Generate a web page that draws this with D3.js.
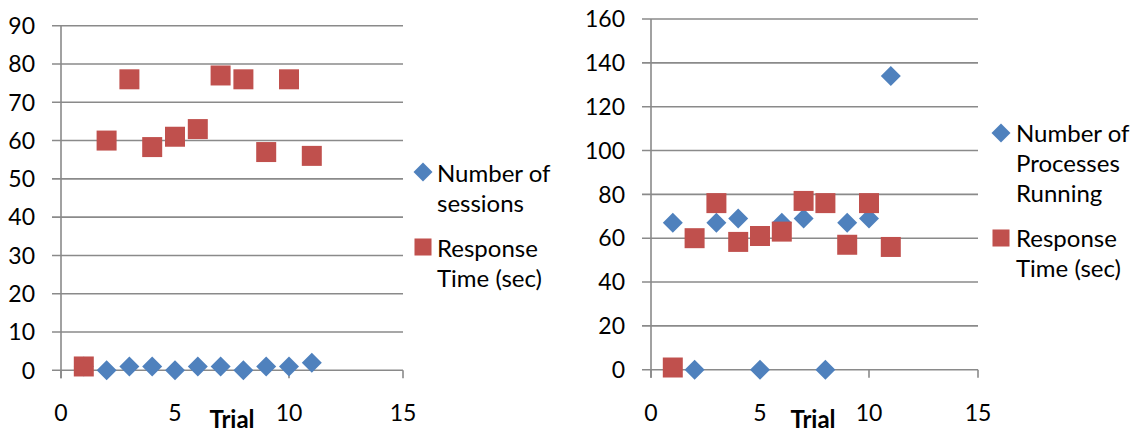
<!DOCTYPE html>
<html><head><meta charset="utf-8">
<script src="https://cdn.jsdelivr.net/npm/d3@7"></script>
<style>body{margin:0;background:#fff;}svg{display:block;font-family:Lato,"Open Sans",sans-serif;}</style>
</head><body>
<svg id="c" width="1139" height="434"></svg>
<script>
const trials = [1,2,3,4,5,6,7,8,9,10,11];
const sessions = [1,0,1,1,0,1,1,0,1,1,2];
const processes = [67,0,67,69,0,67,69,0,67,69,134];
const responseTime = [1,60,76,58.3,61,63,77,76,57,76,56];
const xTicks = [0,5,10,15];
const leftYTicks = [0,10,20,30,40,50,60,70,80,90];
const rightYTicks = [0,20,40,60,80,100,120,140,160];
const leftLegend = [["Number of","sessions"],["Response","Time (sec)"]];
const rightLegend = [["Number of","Processes","Running"],["Response","Time (sec)"]];

const BLUE = "#4F81BD", RED = "#C0504D", GRID = "#8a8a8a";
const svg = d3.select("#c");
const diamond = d3.symbol().type(d3.symbolSquare);

function chart(cfg){
  const g = svg.append("g");
  const x = d3.scaleLinear().domain([0,15]).range([cfg.left, cfg.right]);
  const y = d3.scaleLinear().domain([0, cfg.yMax]).range([cfg.bottom, cfg.top]);
  g.selectAll("line.grid").data(cfg.yTicks).join("line")
    .attr("x1", cfg.left-9).attr("x2", cfg.right)
    .attr("y1", d=>y(d)).attr("y2", d=>y(d))
    .attr("stroke", GRID).attr("stroke-width", 1.6);
  g.append("line").attr("x1", cfg.left).attr("x2", cfg.left)
    .attr("y1", y(cfg.yMax)).attr("y2", cfg.bottom+8)
    .attr("stroke", GRID).attr("stroke-width", 1.6);
  g.selectAll("line.xt").data(xTicks).join("line")
    .attr("x1", d=>x(d)).attr("x2", d=>x(d))
    .attr("y1", cfg.bottom).attr("y2", cfg.bottom+8)
    .attr("stroke", GRID).attr("stroke-width", 1.6);
  g.selectAll("text.yl").data(cfg.yTicks).join("text")
    .attr("x", cfg.left-26).attr("y", d=>y(d)).attr("dy","0.36em")
    .attr("text-anchor","end").attr("font-size",23).attr("fill","#000")
    .text(d=>d);
  g.selectAll("text.xl").data(xTicks).join("text")
    .attr("x", d=>x(d)).attr("y", 421)
    .attr("text-anchor","middle").attr("font-size",23).attr("fill","#000")
    .text(d=>d);
  g.append("text").attr("x", cfg.titleX).attr("y", 428)
    .attr("text-anchor","middle").attr("font-size",24).attr("font-weight","bold")
    .attr("fill","#000").text("Trial");
  g.selectAll("path.s1").data(trials).join("path")
    .attr("d", diamond.size(200)())
    .attr("transform",(d,i)=>`translate(${x(d)},${y(cfg.s1[i])}) rotate(45)`)
    .attr("fill", BLUE);
  g.selectAll("path.s2").data(trials).join("path")
    .attr("d", diamond.size(400)())
    .attr("transform",(d,i)=>`translate(${x(d)},${y(responseTime[i])})`)
    .attr("fill", RED);
  const L = cfg.legend;
  g.append("path").attr("d", diamond.size(180)())
    .attr("transform",`translate(${L.mx},${L.y1}) rotate(45)`).attr("fill",BLUE);
  g.append("path").attr("d", diamond.size(290)())
    .attr("transform",`translate(${L.mx},${L.y2})`).attr("fill",RED);
  cfg.legendText[0].forEach((t,i)=>g.append("text").attr("x",L.tx).attr("y",L.b1+i*30)
    .attr("font-size",24).attr("fill","#000").text(t));
  cfg.legendText[1].forEach((t,i)=>g.append("text").attr("x",L.tx).attr("y",L.b2+i*30)
    .attr("font-size",24).attr("fill","#000").text(t));
}

chart({left:61,right:403,top:25.7,bottom:370.3,yMax:90,yTicks:leftYTicks,s1:sessions,titleX:232,
  legendText:leftLegend,legend:{mx:423,tx:437,y1:172,y2:247,b1:181.7,b2:256.7}});
chart({left:651,right:978,top:19,bottom:369.7,yMax:160,yTicks:rightYTicks,s1:processes,titleX:813,
  legendText:rightLegend,legend:{mx:1001,tx:1016,y1:133,y2:238,b1:142.3,b2:246.7}});
</script>
</body></html>
